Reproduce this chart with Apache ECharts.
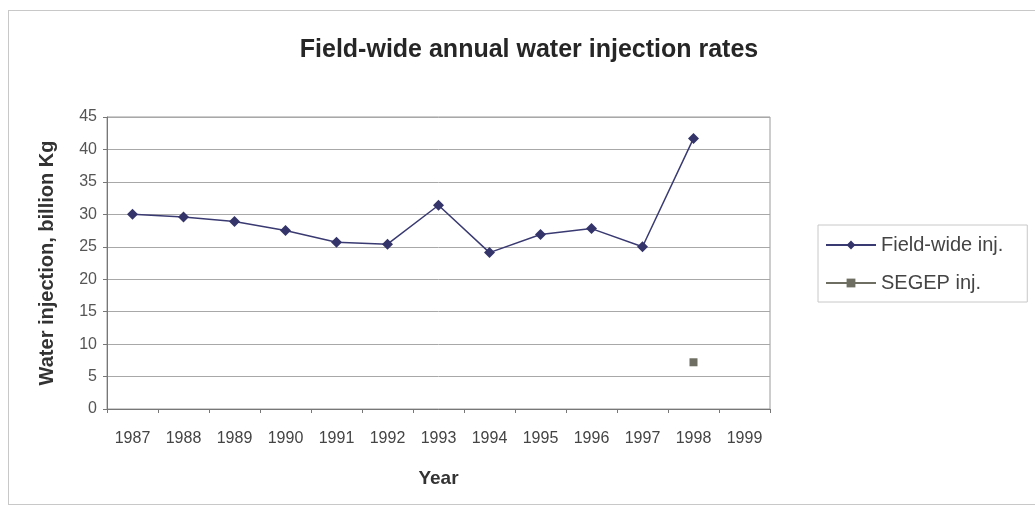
<!DOCTYPE html>
<html>
<head>
<meta charset="utf-8">
<script src="https://cdn.jsdelivr.net/npm/echarts@6/dist/echarts.min.js"></script>
<style>
html,body{margin:0;padding:0;background:#fff;}
#wrap{position:absolute;left:8px;top:10px;width:1040px;height:495px;border:1px solid #c8c8c8;box-sizing:border-box;}
#chart{position:absolute;left:0;top:0;width:1035px;height:518px;}
</style>
</head>
<body>
<div id="wrap"></div>
<div id="chart"></div>
<script>
const years = ['1987','1988','1989','1990','1991','1992','1993','1994','1995','1996','1997','1998','1999'];
const fieldWide = [30.0, 29.6, 28.9, 27.5, 25.7, 25.4, 31.4, 24.1, 26.9, 27.8, 25.0, 41.7, null];
const segep = [null, null, null, null, null, null, null, null, null, null, null, 7.2, null];
const yTicks = [0, 5, 10, 15, 20, 25, 30, 35, 40, 45];

const chart = echarts.init(document.getElementById('chart'), null, {renderer:'canvas'});
const font = '"Liberation Sans", Arial, sans-serif';
chart.setOption({
  backgroundColor: 'transparent',
  animation: false,
  title: {
    text: 'Field-wide annual water injection rates',
    left: 524, top: 33, textAlign: 'center',
    textStyle: {fontFamily: font, fontSize: 25, fontWeight: 'bold', color: '#262626'}
  },
  legend: {
    left: 818, top: 225,
    orient: 'vertical',
    padding: [10, 24, 9, 7],
    itemGap: 18,
    itemWidth: 50, itemHeight: 11,
    borderColor: '#c8c8c8', borderWidth: 1,
    textStyle: {fontFamily: font, fontSize: 20, color: '#444', padding: [0, 0, 0, 0]},
    data: ['Field-wide inj.', 'SEGEP inj.']
  },
  grid: {left: 107, right: 265, top: 117, bottom: 109, show: true, borderColor: '#9a9a9a', borderWidth: 1},
  xAxis: {
    type: 'category', data: years, boundaryGap: true,
    name: 'Year', nameLocation: 'middle', nameGap: 60,
    nameTextStyle: {fontFamily: font, fontSize: 19, fontWeight: 'bold', color: '#333'},
    axisLine: {lineStyle: {color: '#777'}},
    axisTick: {show: true, length: 4, lineStyle: {color: '#777'}},
    axisLabel: {fontFamily: font, fontSize: 16, color: '#444', margin: 22, interval: 0}
  },
  yAxis: {
    type: 'value', min: yTicks[0], max: yTicks[yTicks.length-1], interval: 5,
    name: 'Water injection, billion Kg', nameLocation: 'middle', nameGap: 50,
    nameTextStyle: {fontFamily: font, fontSize: 20, fontWeight: 'bold', color: '#333'},
    axisLine: {show: true, lineStyle: {color: '#777'}},
    axisTick: {show: true, length: 4, lineStyle: {color: '#777'}},
    axisLabel: {fontFamily: font, fontSize: 16, color: '#555', margin: 10},
    splitLine: {lineStyle: {color: '#a8a8a8', width: 1}}
  },
  series: [
    {
      name: 'Field-wide inj.', type: 'line', data: fieldWide,
      symbol: 'diamond', symbolSize: 11,
      lineStyle: {color: '#3a3a72', width: 1.5},
      itemStyle: {color: '#34346a'}
    },
    {
      name: 'SEGEP inj.', type: 'line', data: segep,
      symbol: 'rect', symbolSize: 8,
      lineStyle: {color: '#6e6e62', width: 1.5},
      itemStyle: {color: '#6e6e62'}
    }
  ]
});
</script>
</body>
</html>
